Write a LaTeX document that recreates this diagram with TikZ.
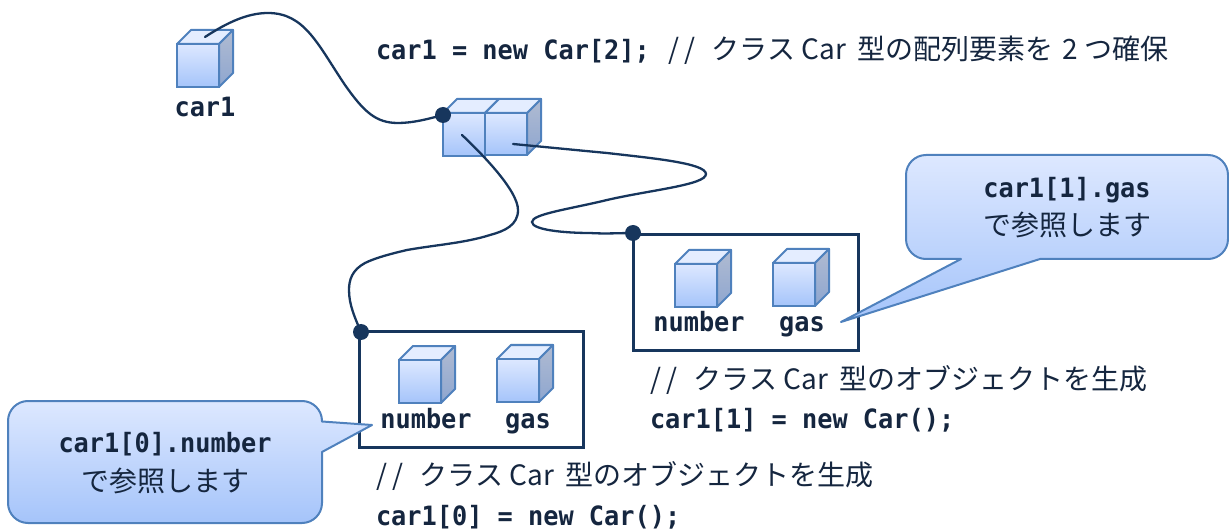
\documentclass[tikz,border=0pt]{standalone}
\usepackage{fontspec}
\setmainfont{Noto Sans CJK JP}
\newfontfamily\jpf{Noto Sans CJK JP}
\newfontfamily\monof[FakeStretch=0.95]{DejaVu Sans Mono}
\definecolor{ink}{HTML}{17365D}
\definecolor{txt}{HTML}{15263F}
\definecolor{edge}{HTML}{4F81BD}
\definecolor{ftop}{HTML}{DDE8FF}
\definecolor{fbot}{HTML}{A5C4FA}
\definecolor{ttop}{HTML}{E4EDFF}
\definecolor{stop}{HTML}{B0BBD2}
\definecolor{sbot}{HTML}{8EA6CF}
\tikzset{
  code/.style={font=\monof\bfseries\fontsize{26.6}{30}\selectfont, text=txt, inner sep=0pt, outer sep=0pt},
  jp/.style={font=\jpf\fontsize{28}{32}\selectfont, text=txt, inner sep=0pt, outer sep=0pt},
  front/.style={draw=edge, line width=2pt, top color=ftop, bottom color=fbot, minimum width=42pt, minimum height=43pt, inner sep=0pt, outer sep=0pt, anchor=north west},
  topface/.style={draw=edge, line width=2pt, fill=ttop, line join=round},
  sideface/.style={draw=edge, line width=2pt, top color=stop, bottom color=sbot, line join=round},
  wire/.style={draw=ink, line width=2.3pt, line cap=round},
  dotnode/.style={circle, fill=ink, minimum size=16pt, inner sep=0pt, outer sep=0pt},
  objbox/.style={draw=ink, line width=3pt, fill=white, inner sep=0pt, outer sep=0pt, anchor=north west},
  callout/.style={draw=edge, line width=2pt, top color=ftop, bottom color=fbot, line join=round}
}
% name, x, y of the front face's top left corner
\newcommand{\boxcube}[3]{%
  \path[topface] (#2,#3) -- ++(14,-14) -- ++(42,0) -- ++(-14,14) -- cycle;
  \path[sideface] (#2+42,#3) -- ++(14,-14) -- ++(0,43) -- ++(-14,14) -- cycle;
  \node[front] (#1) at (#2,#3) {};
}
\newcommand{\slashes}{\spaceskip=6pt\relax /\kern6pt/\kern10pt{} }
\begin{document}
\begin{tikzpicture}[x=1pt,y=-1pt]
\useasboundingbox (0,0) rectangle (1229,529);

% object frames
\node[objbox, minimum width=224pt, minimum height=115pt] (objzero) at (359,332) {};
\node[objbox, minimum width=225pt, minimum height=115pt] (objone) at (633,235) {};

% cubes
\boxcube{carcube}{177}{44}
\boxcube{arrzero}{443}{113}
\path[sideface] (527,113) -- ++(14,-14) -- ++(0,42) -- ++(-14,14) -- cycle;
\path[topface] (485,113) -- ++(14,-14) -- ++(42,0) -- ++(-14,14) -- cycle;
\node[front, minimum height=42pt] (arrone) at (485,113) {};
\boxcube{zeronum}{399}{360}
\boxcube{zerogas}{497}{359}
\boxcube{onenum}{675}{264}
\boxcube{onegas}{773}{263}

% anchors of the connectors
\coordinate (carstart) at (205,37);
\coordinate (zerostart) at (462,135);
\coordinate (onestart) at (513,144);
\node[dotnode] (dotarr) at (443,115) {};
\node[dotnode] (dotzero) at (361,332) {};
\node[dotnode] (dotone) at (633,233) {};

% connectors
\draw[wire] (carstart) .. controls (228,22) and (248,13) .. (268,13)
  .. controls (305,13) and (318,45) .. (345,85)
  .. controls (364,112) and (376,123) .. (398,123)
  .. controls (413,123) and (428,119) .. (dotarr.center);
\draw[wire] (zerostart) .. controls (480,152) and (518,190) .. (518,210)
  .. controls (518,225) and (505,231) .. (490,235)
  .. controls (465,243) and (435,245) .. (407,250)
  .. controls (390,254) and (375,258) .. (365,263)
  .. controls (352,270) and (349,280) .. (349,290)
  .. controls (349,305) and (355,318) .. (dotzero.center);
\draw[wire] (onestart) .. controls (545,147) and (575,150) .. (607,153)
  .. controls (650,158) and (706,163) .. (706,174)
  .. controls (706,185) and (650,190) .. (607,200)
  .. controls (570,209) and (532,214) .. (532,222)
  .. controls (532,230) and (565,233) .. (590,233)
  .. controls (605,234) and (620,233) .. (dotone.center);

% texts
\node[code, anchor=base west] (t1) at (376,60) {car1 = new Car[2];};
\node[jp, anchor=base west] (t2) at (668,60) {\slashes クラス Car\kern6pt{} 型の配列要素を\kern3pt{} 2 つ確保};
\node[code, anchor=base] (lcar) at (205,117) {car1};
\node[code, anchor=base] (lnz) at (426,428) {number};
\node[code, anchor=base] (lgz) at (528,428) {gas};
\node[code, anchor=base] (lno) at (699,331) {number};
\node[code, anchor=base] (lgo) at (802,331) {gas};
\node[jp, anchor=base west] (t3) at (650,389) {\slashes クラス Car\kern6pt{} 型のオブジェクトを生成};
\node[code, anchor=base west] (t4) at (650,428) {car1[1] = new Car();};
\node[jp, anchor=base west] (t5) at (376,485) {\slashes クラス Car\kern6pt{} 型のオブジェクトを生成};
\node[code, anchor=base west] (t6) at (376,525) {car1[0] = new Car();};

% callouts
\path[callout] (28,401) -- (302,401) arc[start angle=-90, end angle=0, radius=20]
  -- (322,421.5) -- (372,425) -- (322,452) -- (322,503) arc[start angle=0, end angle=90, radius=20]
  -- (28,523) arc[start angle=90, end angle=180, radius=20] -- (8,421) arc[start angle=180, end angle=270, radius=20] -- cycle;
\node[code, anchor=base] (cz1) at (165,452) {car1[0].number};
\node[jp, anchor=base] (cz2) at (165,491) {で参照します};

\path[callout] (926,155) -- (1208,155) arc[start angle=-90, end angle=0, radius=20]
  -- (1228,239) arc[start angle=0, end angle=90, radius=20]
  -- (1040,259) -- (841,322) -- (961,259) -- (926,259) arc[start angle=90, end angle=180, radius=20]
  -- (906,175) arc[start angle=180, end angle=270, radius=20] -- cycle;
\node[code, anchor=base] (co1) at (1067,198) {car1[1].gas};
\node[jp, anchor=base] (co2) at (1067,236) {で参照します};
\end{tikzpicture}
\end{document}
